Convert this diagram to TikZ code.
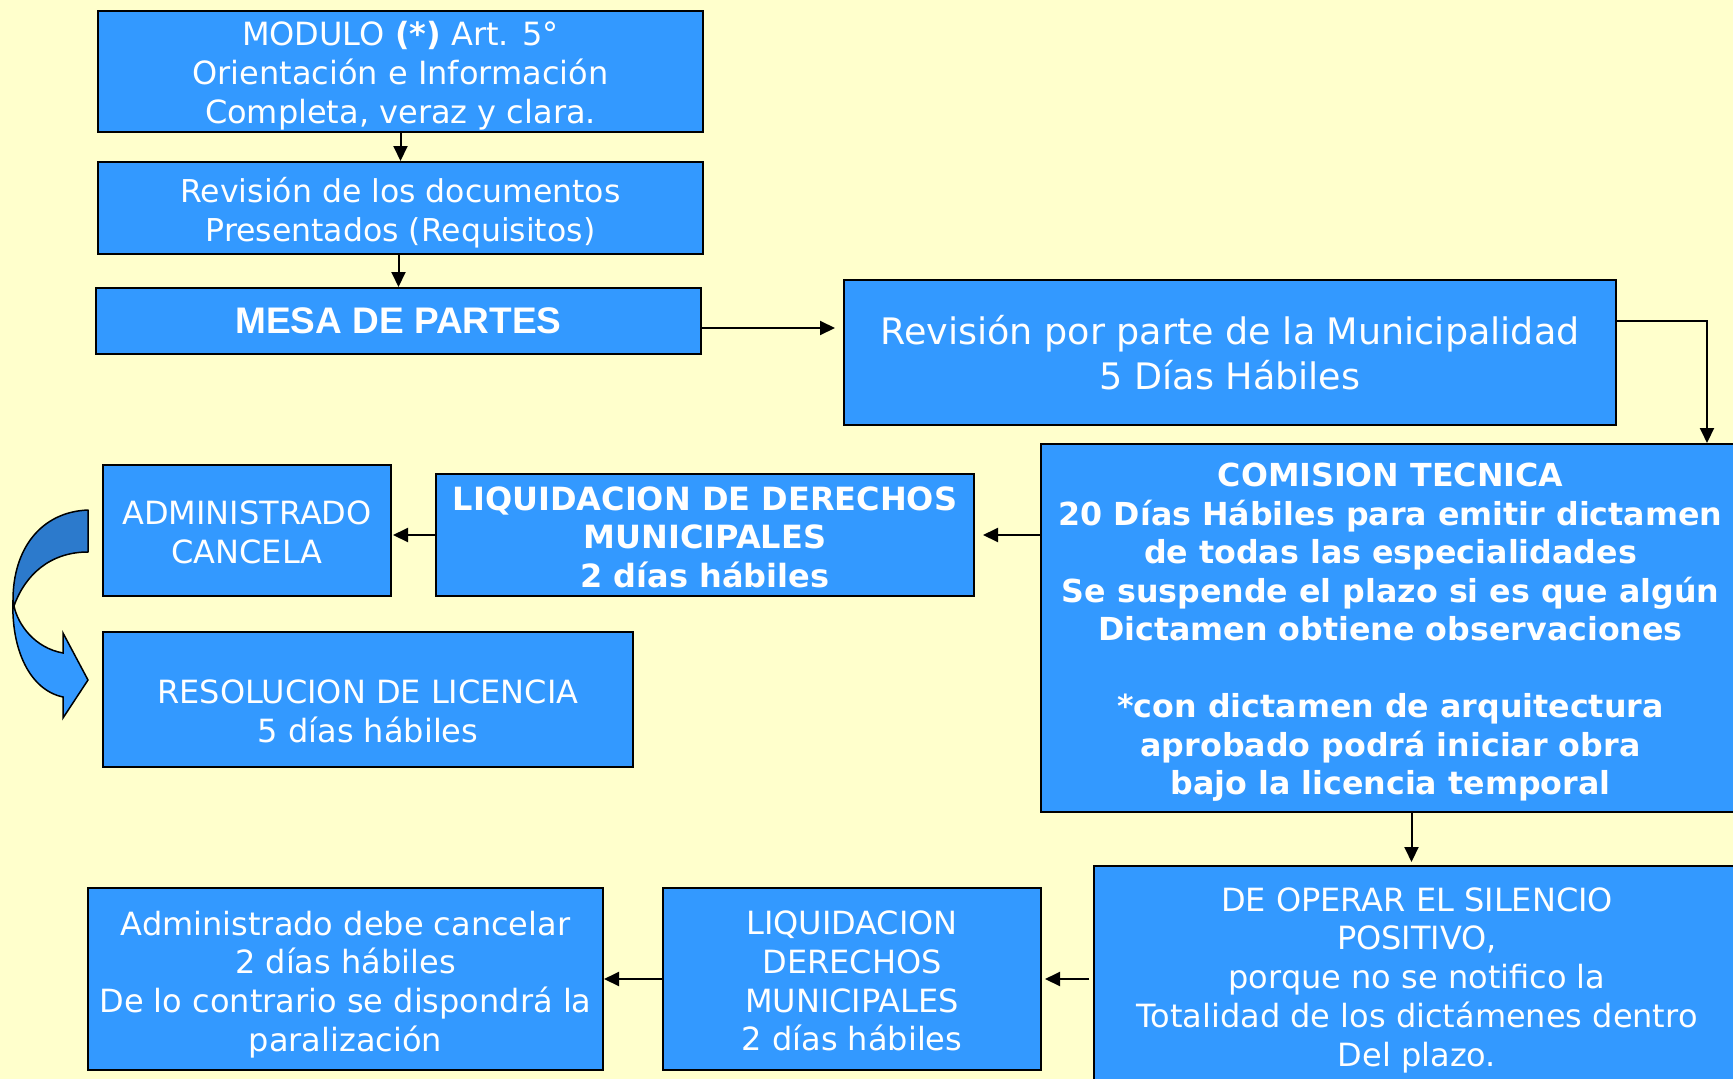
\documentclass[tikz,border=0pt]{standalone}
\usepackage{fontspec}
\setmainfont{DejaVu Sans}
\newfontfamily\arialfont{Liberation Sans}
\usetikzlibrary{arrows.meta}
\definecolor{bg}{HTML}{FFFFCC}
\definecolor{boxblue}{HTML}{3399FF}
\definecolor{darkblue}{RGB}{44,122,204}
\newcommand{\strutof}[1]{\rule{0pt}{#1}}
\tikzset{
  box/.style={draw=black, line width=2pt, fill=boxblue, text=white, align=center, inner sep=0pt, anchor=center},
  arr/.style={draw=black, line width=2pt, -{Triangle[length=15pt,width=14pt]}},
  reg/.style={font=\fontsize{32}{38.7}\selectfont},
  bld/.style={font=\fontsize{32}{38.7}\selectfont\bfseries},
}
\begin{document}
\begin{tikzpicture}[x=1pt,y=-1pt]
\useasboundingbox (0,0) rectangle (1733,1079);
\fill[bg] (0,0) rectangle (1733,1079);

\node[box,reg,minimum width=605pt,minimum height=121pt] (mod) at (400.5,71.5)
  {\strutof{33pt}MODULO \textbf{(*)} Art. 5°\\Orientación e Información\\Completa, veraz y clara.};
\node[box,font=\fontsize{31.5}{38.7}\selectfont,minimum width=605pt,minimum height=92pt] (docs) at (400.5,208)
  {\strutof{34pt}Revisión de los documentos\\Presentados (Requisitos)};
\node[box,font=\arialfont\bfseries\fontsize{37}{44}\selectfont,minimum width=605pt,minimum height=66pt] (mesa) at (398.5,321)
  {MESA DE PARTES};
\node[box,font=\fontsize{36.5}{45}\selectfont,minimum width=772pt,minimum height=145pt] (rev) at (1230,352.5)
  {Revisión por parte de la Municipalidad\\5 Días Hábiles};
\node[box,font=\fontsize{31.7}{38.5}\selectfont\bfseries,minimum width=699pt,minimum height=368pt] (com) at (1390.5,628)
  {\strutof{32pt}COMISION TECNICA\\20 Días Hábiles para emitir dictamen\\de todas las especialidades\\Se suspende el plazo si es que algún\\Dictamen obtiene observaciones\\[38.5pt]{*}con dictamen de arquitectura\\aprobado podrá iniciar obra\\bajo la licencia temporal};
\node[box,bld,minimum width=538pt,minimum height=122pt] (liq1) at (705,535)
  {\strutof{28pt}LIQUIDACION DE DERECHOS\\MUNICIPALES\\2 días hábiles};
\node[box,reg,minimum width=288pt,minimum height=131pt] (adm) at (247,530.5)
  {\strutof{28pt}ADMINISTRADO\\CANCELA};
\node[box,reg,minimum width=530pt,minimum height=135pt] (res) at (368,699.5)
  {\strutof{47pt}RESOLUCION DE LICENCIA\\5 días hábiles};
\node[box,reg,minimum width=646pt,minimum height=222pt] (dop) at (1417,977)
  {\strutof{30pt}DE OPERAR EL SILENCIO\\POSITIVO,\\porque  no se notifico la\\Totalidad de los dictámenes dentro\\Del plazo.};
\node[box,reg,minimum width=378pt,minimum height=182pt] (liq2) at (852,979)
  {\strutof{28pt}LIQUIDACION\\DERECHOS\\MUNICIPALES\\2 días hábiles};
\node[box,reg,minimum width=515pt,minimum height=182pt] (deb) at (345.5,979)
  {\strutof{35pt}Administrado debe cancelar\\2 días hábiles\\De lo contrario se dispondrá la\\paralización};

% connectors
\draw[arr] (mod.south) -- (mod.south |- docs.north);
\draw[arr] ([xshift=-2pt]docs.south) -- ([xshift=-2pt]docs.south |- mesa.north);
\draw[arr,shorten >=8pt] ([yshift=-7pt]mesa.east) -- ([yshift=-7pt]mesa.east -| rev.west);
\draw[arr] ([yshift=31.5pt]rev.east) -| ([xshift=316.5pt]com.north);
\draw[arr,shorten >=8pt] ([yshift=93pt]com.west) -- ([yshift=93pt]com.west -| liq1.east);
\draw[arr,shorten >=1pt] (liq1.west) -- (liq1.west -| adm.east);
\draw[arr,shorten >=3pt] ([xshift=21pt]com.south) -- ([xshift=21pt]com.south |- dop.north);
\draw[arr,shorten <=4pt,shorten >=3pt] ([yshift=-2pt]dop.west) -- ([yshift=-2pt]dop.west -| liq2.east);
\draw[arr] (liq2.west) -- (liq2.west -| deb.east);

% curved block arrow
\draw[line width=1.5pt,fill=darkblue,line join=round]
  (88,510) .. controls (40,512) and (13,550) .. (13,600) -- (14,606)
  .. controls (25,575) and (50,552) .. (88,552) -- cycle;
\draw[line width=1.5pt,fill=boxblue,line join=miter]
  (13,600) .. controls (11,650) and (30,690) .. (63,697) -- (63,718) -- (88,680)
  -- (63,633) -- (63,653) .. controls (35,648) and (18,625) .. (14,606) -- cycle;
\end{tikzpicture}
\end{document}
